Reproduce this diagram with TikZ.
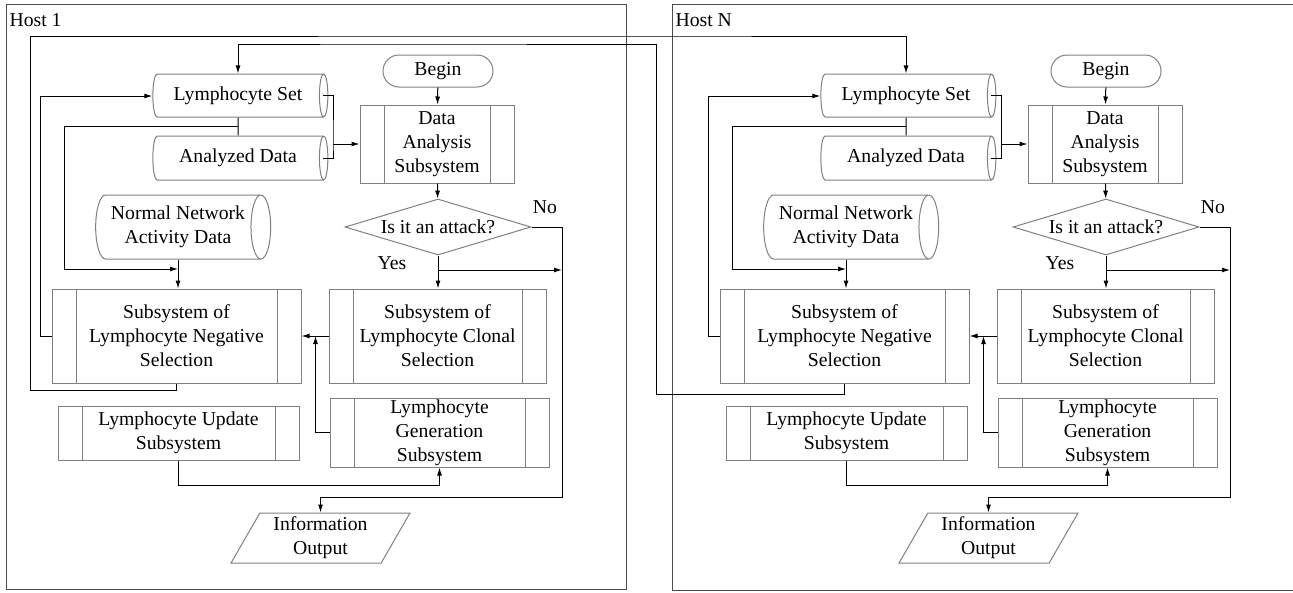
\documentclass[tikz,border=0pt]{standalone}
\usepackage{fontspec}
\setmainfont{Liberation Serif}
\usetikzlibrary{shapes.geometric,arrows.meta,shadows,calc}

\tikzset{
  frame/.style={draw=black!70, line width=1pt},
  wire/.style={draw=black, line width=1pt},
  boxline/.style={draw=black!50, line width=1pt},
  subsys/.style={boxline, rectangle, fill=white, align=center, inner sep=0pt,
    drop shadow={shadow xshift=1.2pt, shadow yshift=-1.2pt, fill=black!40, opacity=0.5},
    path picture={
      \draw[black!50, line width=1pt] ([xshift=24pt]path picture bounding box.north west) -- ([xshift=24pt]path picture bounding box.south west);
      \draw[black!50, line width=1pt] ([xshift=-24pt]path picture bounding box.north east) -- ([xshift=-24pt]path picture bounding box.south east);}},
  store/.style={boxline, cylinder, shape aspect=0.47, fill=white, align=center, inner sep=0pt},
  term/.style={boxline, rectangle, rounded corners=16pt, fill=white, minimum width=110pt, minimum height=32pt, inner sep=0pt},
  test/.style={boxline, diamond, fill=white, inner sep=0pt, minimum width=186pt, minimum height=56pt, shape aspect=3.3},
  outbox/.style={boxline, trapezium, trapezium left angle=62, trapezium right angle=118, trapezium stretches=true,
    fill=white, align=center, inner sep=0pt, minimum width=179pt, minimum height=50pt},
}

\begin{document}
\begin{tikzpicture}[x=1pt,y=-1pt,font=\fontsize{19.7}{24}\selectfont,>={Latex[length=8pt,width=5pt]}]
\useasboundingbox (0,0) rectangle (1293,592);
% Drawing host frames
\draw[frame] (6,4) rectangle (626,589);
\node[anchor=west] (ahost) at (6,20) {Host 1};
\draw[frame] (672,4) rectangle (1300,590);
\node[anchor=west] (bhost) at (672,20) {Host N};
% Host 1: nodes
\node[term] (abeg) at (438,71) {Begin};
\node[subsys, minimum width=154pt, minimum height=78pt] (ada) at (437,144) {Data\\Analysis\\Subsystem};
\node[test] (adia) at (438,227) {Is it an attack?};
\node[subsys, minimum width=217pt, minimum height=94pt] (aclo) at (437.5,336) {Subsystem of\\Lymphocyte Clonal\\Selection};
\node[subsys, minimum width=249pt, minimum height=94pt] (aneg) at (176.5,336) {Subsystem of\\Lymphocyte Negative\\Selection};
\node[subsys, minimum width=241pt, minimum height=54pt] (alu) at (178.5,433) {Lymphocyte Update\\Subsystem};
\node[subsys, minimum width=219pt, minimum height=69pt] (alg) at (439.5,432.5) {Lymphocyte\\Generation\\Subsystem};
\node[store, minimum width=43pt, minimum height=175pt] (als) at (238,95.5) {Lymphocyte Set};
\node[store, minimum width=44pt, minimum height=175pt] (aad) at (238,158) {Analyzed Data};
\node[store, minimum width=64pt, minimum height=175pt] (ann) at (178,227) {Normal Network\\Activity Data};
\node[outbox] (ainf) at (320.5,538) {Information\\Output};
\node (ano) at (545,207) {No};
\node (ayes) at (392,263) {Yes};
% Host 1: connectors
\coordinate (aj) at (333,144);
\coordinate (am1) at ($(als.south)!0.5!(aad.north)$);
\coordinate (am2) at (64,269);
\coordinate (ar) at (562,497);
\coordinate (ay) at (438,270);
\coordinate (ab) at (40,96);
\coordinate (au) at (178,485);
\draw[wire,->] (abeg) -- (ada);
\draw[wire,->] (ada) -- (adia);
\draw[wire,->] (adia.south) -- (adia.south |- aclo.north);
\draw[wire] ([xshift=-5pt]als.east) -| (aj) |- ([xshift=-5pt]aad.east);
\draw[wire,->] (aj) -- (ada.west);
\draw[wire] (als.south) -- (aad.north);
\draw[wire,->] (am1) -| (am2) -- (ann.south |- am2);
\draw[wire,->] (ann.south) -- (ann.south |- aneg.north);
\draw[wire,->] (adia.east) -| (ar) -| (ainf.north);
\draw[wire,->] (ay) -- (ay -| ar);
\draw[wire,->] (aclo.west) -- (aneg.east);
\draw[wire,->] (alg.west) -| ([xshift=14pt]aneg.east);
\draw[wire,->] (alu.south) |- (au -| alg.south) -- (alg.south);
\draw[wire,->] (aneg.west) -| (ab) -- (ab -| als.west);
% Host N: nodes
\node[term] (bbeg) at (1106,71) {Begin};
\node[subsys, minimum width=154pt, minimum height=78pt] (bda) at (1105,144) {Data\\Analysis\\Subsystem};
\node[test] (bdia) at (1106,227) {Is it an attack?};
\node[subsys, minimum width=217pt, minimum height=94pt] (bclo) at (1105.5,336) {Subsystem of\\Lymphocyte Clonal\\Selection};
\node[subsys, minimum width=249pt, minimum height=94pt] (bneg) at (844.5,336) {Subsystem of\\Lymphocyte Negative\\Selection};
\node[subsys, minimum width=241pt, minimum height=54pt] (blu) at (846.5,433) {Lymphocyte Update\\Subsystem};
\node[subsys, minimum width=219pt, minimum height=69pt] (blg) at (1107.5,432.5) {Lymphocyte\\Generation\\Subsystem};
\node[store, minimum width=43pt, minimum height=175pt] (bls) at (906,95.5) {Lymphocyte Set};
\node[store, minimum width=44pt, minimum height=175pt] (bad) at (906,158) {Analyzed Data};
\node[store, minimum width=64pt, minimum height=175pt] (bnn) at (846,227) {Normal Network\\Activity Data};
\node[outbox] (binf) at (988.5,538) {Information\\Output};
\node (bno) at (1213,207) {No};
\node (byes) at (1060,263) {Yes};
% Host N: connectors
\coordinate (bj) at (1001,144);
\coordinate (bm1) at ($(bls.south)!0.5!(bad.north)$);
\coordinate (bm2) at (732,269);
\coordinate (br) at (1230,497);
\coordinate (by) at (1106,270);
\coordinate (bb) at (708,96);
\coordinate (bu) at (846,485);
\draw[wire,->] (bbeg) -- (bda);
\draw[wire,->] (bda) -- (bdia);
\draw[wire,->] (bdia.south) -- (bdia.south |- bclo.north);
\draw[wire] ([xshift=-5pt]bls.east) -| (bj) |- ([xshift=-5pt]bad.east);
\draw[wire,->] (bj) -- (bda.west);
\draw[wire] (bls.south) -- (bad.north);
\draw[wire,->] (bm1) -| (bm2) -- (bnn.south |- bm2);
\draw[wire,->] (bnn.south) -- (bnn.south |- bneg.north);
\draw[wire,->] (bdia.east) -| (br) -| (binf.north);
\draw[wire,->] (by) -- (by -| br);
\draw[wire,->] (bclo.west) -- (bneg.east);
\draw[wire,->] (blg.west) -| ([xshift=14pt]bneg.east);
\draw[wire,->] (blu.south) |- (bu -| blg.south) -- (blg.south);
\draw[wire,->] (bneg.west) -| (bb) -- (bb -| bls.west);
% Links between the hosts
\coordinate (x1) at (30,390);
\coordinate (x2) at (600,36);
\coordinate (y1) at (656,394);
\coordinate (y2) at (400,44);
\draw[wire,->] (aneg.south) |- (x1) |- (x2) -| (bls.north);
\draw[wire,->] (bneg.south) |- (y1) |- (y2) -| (als.north);
\end{tikzpicture}
\end{document}
